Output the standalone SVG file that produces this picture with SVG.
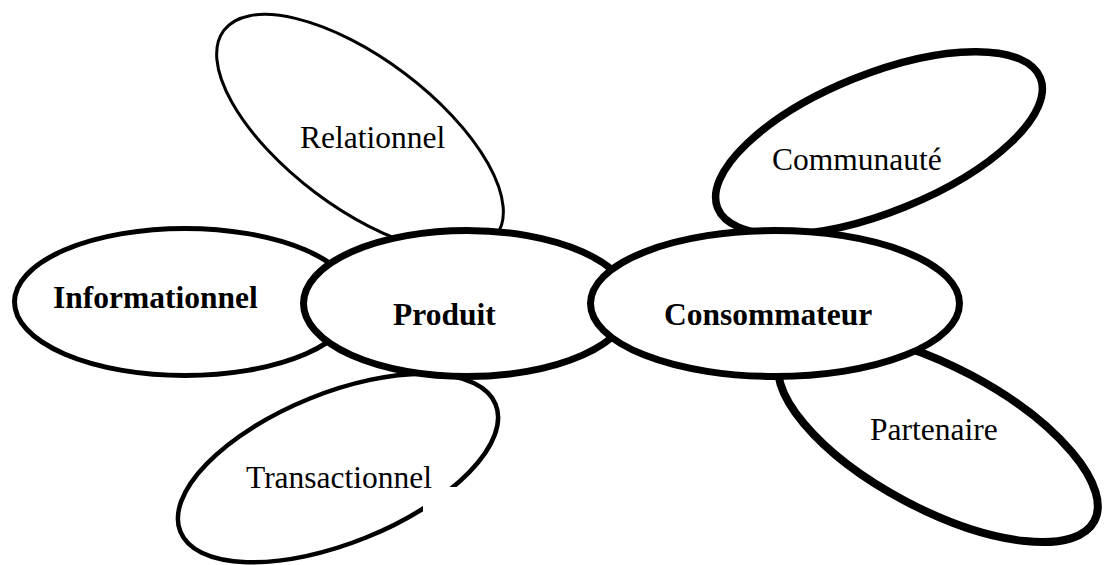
<svg xmlns="http://www.w3.org/2000/svg" width="1106" height="565" viewBox="0 0 1106 565">
<style>
.node{fill:#fff;stroke:#000}
.t{font-family:"Liberation Serif","Times New Roman",serif;font-size:31.5px;fill:#000}
.b{font-weight:bold}
.gap{fill:#fff;stroke:none}
</style>
<rect width="1106" height="565" fill="#fff"/>
<g id="connectors"></g>
<g id="relationnel">
<ellipse class="node" cx="360" cy="133" rx="170.5" ry="74.5" stroke-width="3" transform="rotate(37 360 133)"/>
<text class="t" x="300" y="148">Relationnel</text>
</g>
<g id="transactionnel">
<ellipse class="node" cx="338" cy="468" rx="170" ry="75" stroke-width="4.5" transform="rotate(-22 338 468)"/>
<rect class="gap" x="423" y="487" width="44" height="60"/>
<text class="t" x="246" y="488">Transactionnel</text>
</g>
<g id="communaute">
<ellipse class="node" cx="879" cy="143" rx="174" ry="69" stroke-width="7.5" transform="rotate(-22 879 143)"/>
<text class="t" x="772" y="170">Communauté</text>
</g>
<g id="partenaire">
<ellipse class="node" cx="938" cy="438" rx="177" ry="71" stroke-width="8" transform="rotate(28 938 438)"/>
<rect class="gap" x="1027" y="388" width="15" height="14"/>
<text class="t" x="870" y="440">Partenaire</text>
</g>
<g id="informationnel">
<ellipse class="node" cx="185" cy="302" rx="170.5" ry="73.5" stroke-width="5"/>
<text class="t b" x="53" y="308">Informationnel</text>
</g>
<g id="produit">
<ellipse class="node" cx="467" cy="303.5" rx="163.5" ry="73" stroke-width="7"/>
<text class="t b" x="393" y="325">Produit</text>
</g>
<g id="consommateur">
<ellipse class="node" cx="775" cy="303.5" rx="184.5" ry="73" stroke-width="7"/>
<text class="t b" x="664" y="325">Consommateur</text>
</g>
</svg>
